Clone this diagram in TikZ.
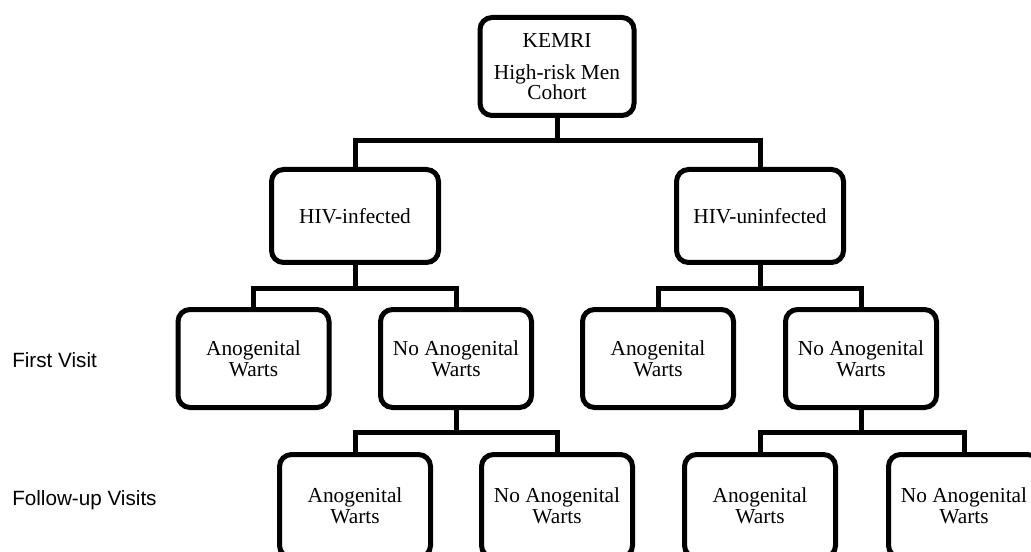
\documentclass[tikz,border=0pt]{standalone}
\usepackage{fontspec}
\setmainfont{Liberation Serif}
\newfontfamily\lblfont{Liberation Sans}
\begin{document}
\begin{tikzpicture}[x=0.75pt,y=-0.75pt,
  box/.style={draw=black,line width=3.75pt,rounded corners=9pt,fill=white,align=center,
    font=\fontsize{16}{15.5}\selectfont,inner sep=0pt},
  smallbox/.style={box,minimum width=113.25pt,minimum height=73.5pt},
  lowbox/.style={box,minimum width=113.25pt,minimum height=77.25pt},
  midbox/.style={box,minimum width=125.25pt,minimum height=69.75pt},
  rootbox/.style={box,minimum width=115.5pt,minimum height=73.5pt},
  conn/.style={draw=black,line width=3.75pt},
  side/.style={font=\lblfont\fontsize{15.5}{18}\selectfont,anchor=west,inner sep=0pt}]
\useasboundingbox (0,0) rectangle (1031,552);
\clip (0,0) rectangle (1031,552);
% bar levels
\coordinate (b1) at (0,141);
\coordinate (b2) at (0,288);
\coordinate (b3) at (0,432);
% nodes
\node[rootbox] (root) at (557,66.5) {KEMRI\\[8.5pt]High-risk Men\\Cohort};
\node[midbox] (inf) at (355,216) {HIV-infected};
\node[midbox] (uninf) at (760,216) {HIV-uninfected};
\node[smallbox] (ia) at (253.5,358.5) {Anogenital\\Warts};
\node[smallbox] (in) at (456,358.5) {No Anogenital\\Warts};
\node[smallbox] (ua) at (658,358.5) {Anogenital\\Warts};
\node[smallbox] (un) at (861,358.5) {No Anogenital\\Warts};
\node[lowbox] (ina) at (355,506) {Anogenital\\Warts};
\node[lowbox] (inn) at (557,506) {No Anogenital\\Warts};
\node[lowbox] (una) at (760,506) {Anogenital\\Warts};
\node[lowbox] (unn) at (964,506) {No Anogenital\\Warts};
% side labels
\node[side] (fv) at (12,360) {First Visit};
\node[side] (fu) at (12,500) {Follow-up Visits};
% connectors
\draw[conn] (root.south) -- (root.south |- b1);
\draw[conn] (inf.north) |- (uninf.north |- b1) -- (uninf.north);
\draw[conn] (inf.south) -- (inf.south |- b2);
\draw[conn] (ia.north) |- (in.north |- b2) -- (in.north);
\draw[conn] (uninf.south) -- (uninf.south |- b2);
\draw[conn] (ua.north) |- (un.north |- b2) -- (un.north);
\draw[conn] (in.south) -- (in.south |- b3);
\draw[conn] (ina.north) |- (inn.north |- b3) -- (inn.north);
\draw[conn] (un.south) -- (un.south |- b3);
\draw[conn] (una.north) |- (unn.north |- b3) -- (unn.north);
\end{tikzpicture}
\end{document}
